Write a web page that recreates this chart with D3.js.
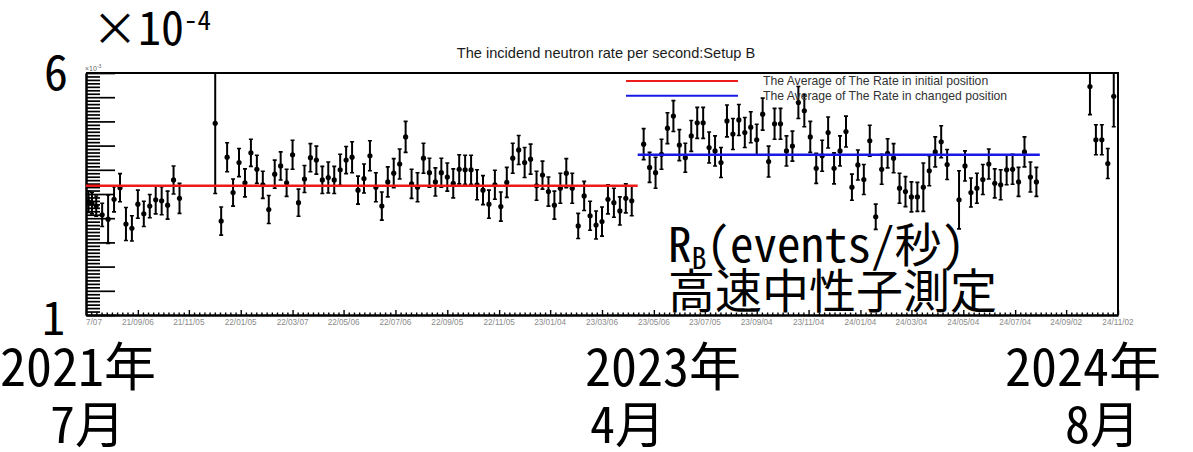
<!DOCTYPE html>
<html>
<head>
<meta charset="utf-8">
<script src="https://cdn.jsdelivr.net/npm/d3@7"></script>
<style>
  html, body { margin: 0; padding: 0; background: #fff; }
  svg { display: block; }
</style>
</head>
<body>
<svg id="chart" width="1193" height="452"></svg>
<script>
// ---- weekly incident neutron rate, Setup B (units of 1e-4 events/s) ----
const sampleDates = [
  "2021-07-10","2021-07-14","2021-07-19","2021-07-26","2021-08-02","2021-08-09","2021-08-16","2021-08-23",
  "2021-08-30","2021-09-06","2021-09-13","2021-09-20","2021-09-27","2021-10-04","2021-10-11","2021-10-18",
  "2021-10-25","2021-12-06","2021-12-13","2021-12-20","2021-12-27","2022-01-03","2022-01-10","2022-01-17",
  "2022-01-24","2022-01-31","2022-02-07","2022-02-14","2022-02-21","2022-02-28","2022-03-07","2022-03-14",
  "2022-03-21","2022-03-28","2022-04-04","2022-04-11","2022-04-18","2022-04-25","2022-05-02","2022-05-09",
  "2022-05-16","2022-05-23","2022-05-30","2022-06-06","2022-06-13","2022-06-20","2022-06-27","2022-07-04",
  "2022-07-11","2022-07-18","2022-07-25","2022-08-01","2022-08-08","2022-08-15","2022-08-22","2022-08-29",
  "2022-09-05","2022-09-12","2022-09-19","2022-09-26","2022-10-03","2022-10-10","2022-10-17","2022-10-24",
  "2022-10-31","2022-11-07","2022-11-14","2022-11-21","2022-11-28","2022-12-05","2022-12-12","2022-12-19",
  "2022-12-26","2023-01-02","2023-01-09","2023-01-16","2023-01-23","2023-01-30","2023-02-06","2023-02-13",
  "2023-02-20","2023-02-27","2023-03-06","2023-03-13","2023-03-20","2023-03-27","2023-04-03","2023-04-10",
  "2023-04-24","2023-05-01","2023-05-08","2023-05-15","2023-05-22","2023-05-29","2023-06-05","2023-06-12",
  "2023-06-19","2023-06-26","2023-07-03","2023-07-10","2023-07-17","2023-07-24","2023-07-31","2023-08-07",
  "2023-08-14","2023-08-21","2023-08-28","2023-09-04","2023-09-11","2023-09-18","2023-09-25","2023-10-02",
  "2023-10-09","2023-10-16","2023-10-23","2023-10-30","2023-11-06","2023-11-13","2023-11-20","2023-11-27",
  "2023-12-04","2023-12-11","2023-12-18","2023-12-25","2024-01-01","2024-01-08","2024-01-15","2024-01-22",
  "2024-01-29","2024-02-05","2024-02-12","2024-02-19","2024-02-26","2024-03-04","2024-03-11","2024-03-18",
  "2024-03-25","2024-04-01","2024-04-08","2024-04-15","2024-04-29","2024-05-06","2024-05-13","2024-05-20",
  "2024-05-27","2024-06-03","2024-06-10","2024-06-17","2024-06-24","2024-07-01","2024-07-08","2024-07-15",
  "2024-07-22","2024-07-29","2024-09-30","2024-10-07","2024-10-14","2024-10-21","2024-10-28"
];

const rates = [
  3.34,3.31,3.25,3.07,2.98,3.39,3.63,2.88,2.79,3.29,3.09,3.25,3.38,3.36,3.27,3.79,
  3.41,4.96,2.94,4.26,3.53,4.15,3.73,4.35,4.01,3.69,3.18,3.91,4.08,3.73,4.31,3.32,
  3.81,4.25,4.20,3.79,3.84,3.79,4.00,4.20,4.26,3.58,3.82,4.29,3.64,3.25,3.75,3.93,
  4.12,4.68,3.71,3.64,4.24,3.94,3.75,3.94,3.85,3.72,4.01,4.00,4.00,3.69,3.58,3.29,
  3.69,3.24,3.74,4.24,4.41,4.15,4.22,3.67,3.89,3.55,3.27,3.62,3.93,3.62,2.84,3.46,
  3.05,2.86,2.93,3.39,3.32,3.15,3.41,3.36,4.53,4.05,3.94,4.32,4.86,5.11,4.51,4.25,
  4.70,4.97,4.97,4.46,4.39,4.15,5.01,4.74,5.03,4.77,4.88,4.62,5.15,4.17,4.95,4.95,
  4.39,4.49,5.39,5.22,4.68,4.03,4.29,4.77,4.03,4.39,4.79,3.64,4.10,3.80,4.60,3.03,
  4.01,4.34,4.24,3.62,3.55,3.44,3.44,3.64,3.98,4.37,4.58,4.11,3.38,4.08,3.53,3.62,
  3.80,4.12,3.72,3.69,4.00,4.01,3.75,4.37,3.85,3.75,5.72,4.62,4.62,4.13,5.52
];

const rateErrors = [
  0.22,0.22,0.21,0.24,0.50,0.26,0.29,0.34,0.26,0.29,0.26,0.24,0.29,0.29,0.29,0.29,
  0.31,1.45,0.29,0.30,0.28,0.29,0.29,0.28,0.29,0.28,0.29,0.29,0.29,0.28,0.30,0.28,
  0.28,0.29,0.29,0.28,0.32,0.28,0.32,0.28,0.32,0.29,0.30,0.31,0.30,0.29,0.31,0.30,
  0.31,0.32,0.30,0.30,0.31,0.30,0.29,0.30,0.29,0.30,0.30,0.30,0.30,0.31,0.30,0.29,
  0.30,0.30,0.31,0.31,0.30,0.31,0.31,0.30,0.29,0.30,0.29,0.31,0.30,0.31,0.26,0.30,
  0.30,0.29,0.30,0.30,0.30,0.29,0.30,0.31,0.32,0.31,0.32,0.31,0.32,0.32,0.32,0.30,
  0.32,0.32,0.32,0.32,0.31,0.31,0.33,0.32,0.32,0.31,0.32,0.32,0.33,0.32,0.32,0.32,
  0.31,0.31,0.33,0.33,0.32,0.31,0.32,0.32,0.32,0.31,0.32,0.27,0.31,0.31,0.32,0.26,
  0.31,0.30,0.30,0.31,0.31,0.31,0.30,0.50,0.31,0.31,0.33,0.31,0.60,0.31,0.30,0.31,
  0.31,0.31,0.30,0.31,0.31,0.31,0.30,0.31,0.31,0.30,0.58,0.31,0.31,0.31,0.63
];

// average rate of each detector position and the period it covers
const averageNames  = ["The Average of The Rate in initial position", "The Average of The Rate in changed position"];
const averageLevels = [3.67, 4.31];
const averageStarts = ["2021-07-07", "2023-04-17"];
const averageEnds   = ["2023-04-17", "2024-08-02"];

// axis ticks
const xTickLabels = ["21/07/07","21/09/06","21/11/05","22/01/05","22/03/07","22/05/06","22/07/06",
  "22/09/05","22/11/05","23/01/04","23/03/06","23/05/06","23/07/05","23/09/04","23/11/04",
  "24/01/04","24/03/04","24/05/04","24/07/04","24/09/02","24/11/02"];
const yMajorTicks = [1, 1.5, 2, 2.5, 3, 3.5, 4, 4.5, 5, 5.5, 6];

const plotTitle = "The incidend neutron rate per second:Setup B";

// ---- styling ----
const lineColors = ["#ee1b1b", "#1818e8"];
const rootFont = "'Liberation Sans', Arial, Helvetica, sans-serif";
const jpFont = "'Noto Sans Mono CJK JP', 'Noto Sans CJK JP', sans-serif";

const frame = { left: 86, right: 1118, top: 73, bottom: 315 };

const svg = d3.select("#chart");
const parseDay = d3.timeParse("%Y-%m-%d");
const parseTick = d3.timeParse("%y/%m/%d");
const tickDates = xTickLabels.map(parseTick);

const x = d3.scaleTime()
  .domain([tickDates[0], tickDates[tickDates.length - 1]])
  .range([frame.left, frame.right]);
const y = d3.scaleLinear().domain([1, 6]).range([frame.bottom, frame.top]);

const points = sampleDates.map((d, i) => ({ date: parseDay(d), v: rates[i], e: rateErrors[i] }));

const defs = svg.append("defs");
defs.append("clipPath").attr("id", "plotClip")
  .append("rect")
  .attr("x", frame.left).attr("y", frame.top)
  .attr("width", frame.right - frame.left).attr("height", frame.bottom - frame.top);
defs.append("clipPath").attr("id", "labelClip")
  .append("rect").attr("x", frame.left).attr("y", 0).attr("width", 1193 - frame.left).attr("height", 452);

// title
svg.append("text")
  .attr("x", 606).attr("y", 58)
  .attr("text-anchor", "middle")
  .attr("font-family", rootFont).attr("font-size", 14.6)
  .attr("fill", "#1a1a1a")
  .text(plotTitle);

// frame top and right edges
svg.append("path")
  .attr("d", `M${frame.left},${frame.top}H${frame.right}V${frame.bottom}`)
  .attr("fill", "none").attr("stroke", "#000").attr("stroke-width", 2);

// y axis: inward ticks, long majors and dense minors
const yMinorTicks = [];
for (let i = 0; i < yMajorTicks.length - 1; i++) {
  const a = yMajorTicks[i], b = yMajorTicks[i + 1];
  for (let k = 1; k < 7; k++) yMinorTicks.push(a + (b - a) * k / 7);
}
const yAxisMajor = d3.axisLeft(y).tickValues(yMajorTicks).tickSizeInner(-29).tickSizeOuter(0).tickFormat("");
const yAxisMinor = d3.axisLeft(y).tickValues(yMinorTicks).tickSizeInner(-14).tickSizeOuter(0).tickFormat("");
[yAxisMinor, yAxisMajor].forEach(ax => {
  const g = svg.append("g").attr("transform", `translate(${frame.left},0)`).call(ax);
  g.selectAll("line").attr("stroke", "#000").attr("stroke-width", 1.7);
  g.select(".domain").attr("stroke", "#000").attr("stroke-width", 2);
});

// x axis: majors at every tick label, ten subdivisions between
const xMinorTicks = [];
for (let i = 0; i < tickDates.length - 1; i++) {
  const a = +tickDates[i], b = +tickDates[i + 1];
  for (let k = 1; k < 10; k++) xMinorTicks.push(new Date(a + (b - a) * k / 10));
}
const xAxisMinor = d3.axisBottom(x).tickValues(xMinorTicks).tickSizeInner(-2.5).tickSizeOuter(0).tickFormat("");
const xAxisMajor = d3.axisBottom(x).tickValues(tickDates).tickSizeInner(-5).tickSizeOuter(0).tickFormat("");
[xAxisMinor, xAxisMajor].forEach(ax => {
  const g = svg.append("g").attr("transform", `translate(0,${frame.bottom})`).call(ax);
  g.selectAll("line").attr("stroke", "#000").attr("stroke-width", 1.4);
  g.select(".domain").attr("stroke", "#000").attr("stroke-width", 2);
});
svg.append("g").attr("clip-path", "url(#labelClip)")
  .selectAll("text").data(tickDates).join("text")
  .attr("x", d => x(d)).attr("y", frame.bottom + 10)
  .attr("text-anchor", "middle")
  .attr("font-family", rootFont).attr("font-size", 8.2)
  .attr("fill", "#8a8a8a")
  .text((d, i) => xTickLabels[i]);

// exponent of the ROOT axis
svg.append("text")
  .attr("x", frame.left - 1).attr("y", frame.top - 2)
  .attr("font-family", rootFont).attr("font-size", 7).attr("fill", "#666")
  .text("×10").append("tspan").attr("dy", -3).attr("font-size", 5).text("-3");

// data with error bars
const dataG = svg.append("g").attr("clip-path", "url(#plotClip)");
const bars = dataG.selectAll("g.pt").data(points).join("g").attr("class", "pt");
bars.append("line")
  .attr("x1", d => x(d.date)).attr("x2", d => x(d.date))
  .attr("y1", d => y(d.v + d.e)).attr("y2", d => y(d.v - d.e))
  .attr("stroke", "#000").attr("stroke-width", 2);
bars.append("path")
  .attr("d", d => {
    const cx = x(d.date);
    return `M${cx - 2},${y(d.v + d.e)}H${cx + 2}M${cx - 2},${y(d.v - d.e)}H${cx + 2}`;
  })
  .attr("stroke", "#000").attr("stroke-width", 1.6);
bars.append("circle")
  .attr("cx", d => x(d.date)).attr("cy", d => y(d.v))
  .attr("r", 2.6).attr("fill", "#000");

// average levels per position
averageLevels.forEach((lv, i) => {
  dataG.append("line")
    .attr("x1", x(parseDay(averageStarts[i]))).attr("x2", x(parseDay(averageEnds[i])))
    .attr("y1", y(lv)).attr("y2", y(lv))
    .attr("stroke", lineColors[i]).attr("stroke-width", 2.6);
});

// legend
const legend = svg.append("g");
averageNames.forEach((name, i) => {
  const ly = 81 + i * 14.7;
  legend.append("line").attr("x1", 626).attr("x2", 738).attr("y1", ly).attr("y2", ly)
    .attr("stroke", lineColors[i]).attr("stroke-width", 2);
  legend.append("text").attr("x", 763).attr("y", ly + 4)
    .attr("font-family", rootFont).attr("font-size", 12.2).attr("fill", "#333")
    .text(name);
});

// large Japanese annotations
const ann = svg.append("g").attr("font-family", jpFont).attr("fill", "#000");
const expo = ann.append("text").attr("x", 92).attr("y", 45).attr("font-size", 46);
expo.append("tspan").text("×10");
expo.append("tspan").attr("dy", -15).attr("font-size", 27).text("-4");
ann.append("text").attr("x", 44).attr("y", 90).attr("font-size", 48).text("6");
ann.append("text").attr("x", 42).attr("y", 335).attr("font-size", 46).text("1");

const dateNotes = [
  { year: "2021年", month: "7月", x: 0, mx: 50 },
  { year: "2023年", month: "4月", x: 585, mx: 590 },
  { year: "2024年", month: "8月", x: 1005, mx: 1065 }
];
dateNotes.forEach(n => {
  ann.append("text").attr("x", n.x).attr("y", 386).attr("font-size", 52).text(n.year);
  ann.append("text").attr("x", n.mx).attr("y", 443).attr("font-size", 50).text(n.month);
});

const rb = ann.append("text").attr("x", 668).attr("y", 262).attr("font-size", 47);
rb.append("tspan").text("R");
rb.append("tspan").attr("dy", 7).attr("font-size", 30).text("B");
rb.append("tspan").attr("dy", -7).text("(events/秒)");
ann.append("text").attr("x", 668).attr("y", 308).attr("font-size", 47).text("高速中性子測定");
</script>
</body>
</html>
